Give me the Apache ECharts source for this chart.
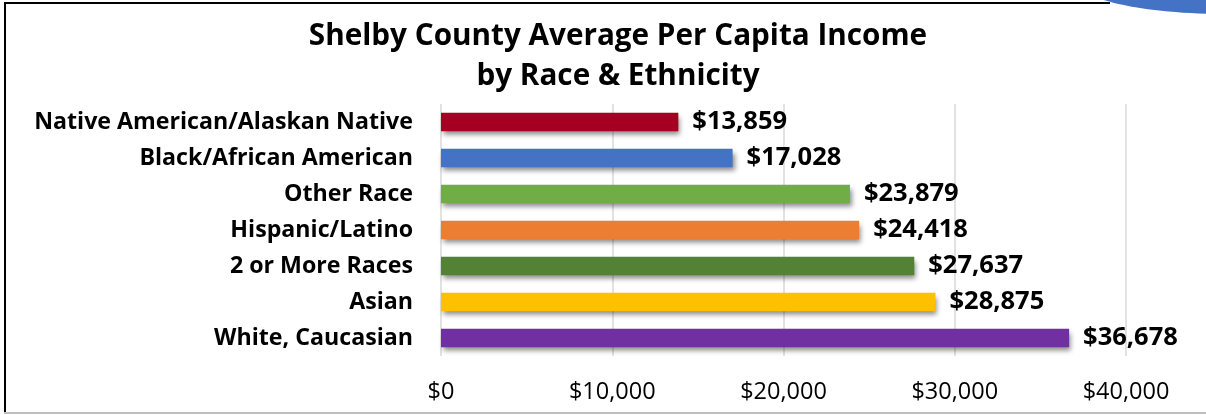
<!DOCTYPE html>
<html>
<head>
<meta charset="utf-8">
<style>
  html, body { margin: 0; padding: 0; background: #fff; }
  #chart { width: 1206px; height: 415px; }
</style>
<script src="https://cdn.jsdelivr.net/npm/echarts@6/dist/echarts.min.js"></script>
</head>
<body>
<div id="chart"></div>
<script>
// Per capita income by race & ethnicity, Shelby County
const categories = [
  'Native American/Alaskan Native',
  'Black/African American',
  'Other Race',
  'Hispanic/Latino',
  '2 or More Races',
  'Asian',
  'White, Caucasian'
];
const incomes = [13859, 17028, 23879, 24418, 27637, 28875, 36678];
const barColors = ['#A50021', '#4472C4', '#70AD47', '#ED7D31', '#548235', '#FFC000', '#7030A0'];
const axisMax = 40000;
const axisStep = 10000;

const money = v => '$' + Math.round(v).toLocaleString('en-US');
const FONT = 'Open Sans';

const chart = echarts.init(document.getElementById('chart'), null, { renderer: 'canvas' });
chart.setOption({
  animation: false,
  backgroundColor: '#fff',
  grid: { left: 441, right: 80, top: 104, bottom: 59 },
  xAxis: {
    type: 'value',
    min: 0, max: axisMax, interval: axisStep,
    axisLine: { show: false },
    axisTick: { show: false },
    splitLine: { show: true, lineStyle: { color: '#d9d9d9', width: 1.5 } },
    axisLabel: {
      formatter: money, margin: 24,
      fontFamily: FONT, fontSize: 23.5, color: '#000'
    }
  },
  yAxis: {
    type: 'category',
    inverse: true,
    data: categories,
    axisLine: { show: false },
    axisTick: { show: false },
    axisLabel: {
      margin: 28,
      fontFamily: FONT, fontWeight: 'bold', fontSize: 23.2, color: '#000'
    }
  },
  series: [{
    type: 'bar',
    data: incomes.map((v, i) => ({ value: v, itemStyle: { color: barColors[i] } })),
    barCategoryGap: '48%',
    itemStyle: {
      shadowColor: 'rgba(0,0,0,0.45)', shadowBlur: 5, shadowOffsetX: 2, shadowOffsetY: 4
    },
    label: {
      show: true, position: 'right', distance: 14,
      formatter: p => money(p.value),
      fontFamily: FONT, fontWeight: 'bold', fontSize: 25.5, color: '#000'
    }
  }],
  graphic: [
    // chart heading, two centred lines
    {
      type: 'text', x: 618, y: 17, z: 5,
      style: {
        text: 'Shelby County Average Per Capita Income\nby Race & Ethnicity',
        align: 'center', verticalAlign: 'top',
        fontFamily: FONT, fontWeight: 'bold', fontSize: 29.7, lineHeight: 40, fill: '#000'
      }
    },
    // frame: left and top edges dark, bottom edge light
    { type: 'line', shape: { x1: 5, y1: 3, x2: 5, y2: 413 }, style: { stroke: '#000', lineWidth: 2 } },
    { type: 'line', shape: { x1: 4, y1: 3, x2: 1110, y2: 3 }, style: { stroke: '#000', lineWidth: 2 } },
    { type: 'line', shape: { x1: 4, y1: 413, x2: 1206, y2: 413 }, style: { stroke: '#bfbfbf', lineWidth: 2 } },
    // corner accent shape
    { type: 'ellipse', shape: { cx: 1225, cy: -20, rx: 150, ry: 34 }, style: { fill: '#4472C4' }, z: 10 }
  ]
});
</script>
</body>
</html>
